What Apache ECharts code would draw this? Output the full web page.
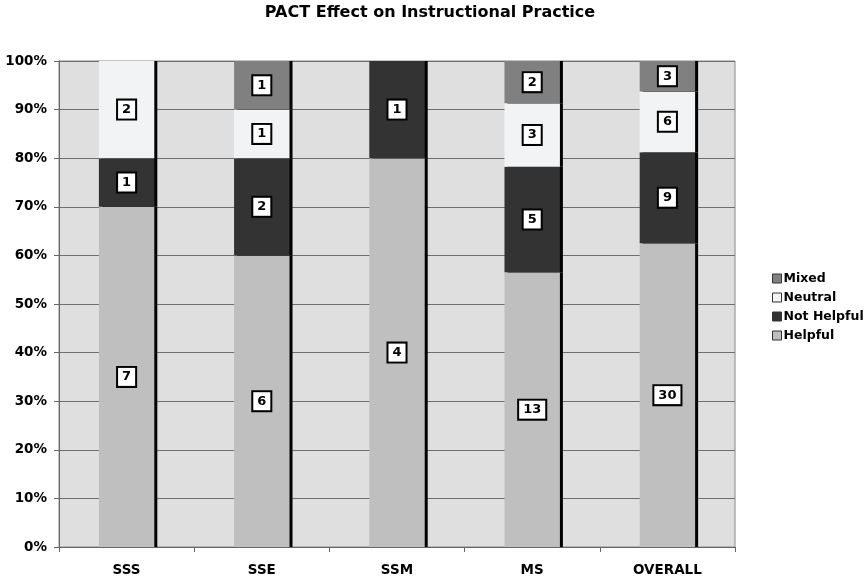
<!DOCTYPE html>
<html><head><meta charset="utf-8">
<script src="https://cdn.jsdelivr.net/npm/echarts@6/dist/echarts.min.js"></script>
<style>html,body{margin:0;padding:0;background:#fff}#c{width:865px;height:580px}</style>
</head><body><div id="c"></div>
<script>
const categories = ['SSS', 'SSE', 'SSM', 'MS', 'OVERALL'];
const helpful = [7, 6, 4, 13, 30];
const notHelpful = [1, 2, 1, 5, 9];
const neutral = [2, 1, 0, 3, 6];
const mixed = [0, 1, 0, 2, 3];
const yTicks = [0, 10, 20, 30, 40, 50, 60, 70, 80, 90, 100];

const totals = categories.map((_, i) => helpful[i] + notHelpful[i] + neutral[i] + mixed[i]);
const font = 'DejaVu Sans';
function mk(name, counts, color) {
  return {
    name: name, type: 'bar', stack: 's', barWidth: '41%',
    itemStyle: { color: color, shadowColor: '#000', shadowOffsetX: 3, shadowOffsetY: 0, shadowBlur: 0 },
    data: counts.map((c, i) => ({
      value: c / totals[i] * 100,
      count: c,
      label: { show: c > 0 }
    })),
    label: {
      show: true, position: 'inside',
      formatter: p => String(p.data.count),
      backgroundColor: '#fff', borderColor: '#000', borderWidth: 2,
      padding: [3, 4, 2, 4], color: '#000',
      fontFamily: font, fontWeight: 'bold', fontSize: 13
    }
  };
}
const chart = echarts.init(document.getElementById('c'));
chart.setOption({
  animation: false,
  backgroundColor: '#fff',
  title: {
    text: 'PACT Effect on Instructional Practice', left: 425, textAlign: 'center', top: 0,
    textStyle: { fontFamily: font, fontWeight: 'bold', fontSize: 16, color: '#000' }
  },
  legend: {
    orient: 'vertical', left: 767, top: 267, itemWidth: 9, itemHeight: 9, itemGap: 6,
    icon: 'rect',
    data: ['Mixed', 'Neutral', 'Not Helpful', 'Helpful'],
    itemStyle: { borderColor: '#333', borderWidth: 1, shadowBlur: 0, shadowOffsetX: 0 },
    textStyle: { fontFamily: font, fontWeight: 'bold', fontSize: 12.5, color: '#000', padding: [0, 0, 0, -3] }
  },
  grid: { left: 59, right: 130, top: 61, bottom: 33, show: true, backgroundColor: '#dfdfdf', borderColor: '#888', borderWidth: 1 },
  xAxis: {
    type: 'category', data: categories,
    axisLine: { lineStyle: { color: '#666' } },
    axisTick: { show: true, length: 5, lineStyle: { color: '#666' } },
    axisLabel: { margin: 16, fontFamily: font, fontWeight: 'bold', fontSize: 13.5, color: '#000' },
    splitLine: { show: false }
  },
  yAxis: {
    type: 'value', min: 0, max: 100, interval: 10,
    axisLine: { show: true, lineStyle: { color: '#666' } },
    axisTick: { show: true, length: 5, lineStyle: { color: '#666' } },
    axisLabel: { margin: 12, fontFamily: font, fontWeight: 'bold', fontSize: 13.5, color: '#000',
      formatter: v => yTicks.includes(v) ? v + '%' : '' },
    splitLine: { lineStyle: { color: '#6f6f6f', width: 1 } }
  },
  series: [
    mk('Helpful', helpful, '#bfbfbf'),
    mk('Not Helpful', notHelpful, '#333333'),
    mk('Neutral', neutral, '#f2f3f5'),
    mk('Mixed', mixed, '#808080')
  ]
});
</script></body></html>
